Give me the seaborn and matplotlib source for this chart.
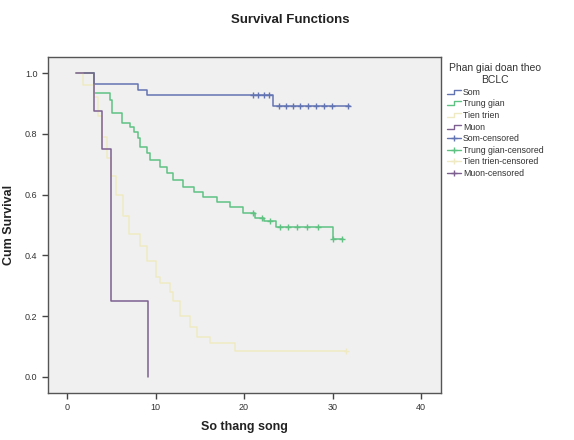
import numpy as np
import pandas as pd
import matplotlib
matplotlib.use("Agg")
import matplotlib.pyplot as plt
from matplotlib.lines import Line2D
from matplotlib.legend_handler import HandlerBase
import seaborn as sns

# ---- data ----
groups = ["Som", "Trung gian", "Tien trien", "Muon"]

som_t = [1.0, 3.0, 8.0, 9.0, 23.3, 32.0]
som_s = [1.0, 0.964, 0.946, 0.929, 0.893, 0.893]

tg_t = [1.0, 3.0, 4.9, 5.1, 6.2, 7.1, 7.6, 8.0, 8.3, 9.0, 9.4, 10.5, 11.3, 12.0,
        13.1, 14.3, 15.4, 16.9, 18.4, 19.9, 21.2, 22.3, 23.6, 30.0, 31.2]
tg_s = [1.0, 0.933, 0.91, 0.868, 0.836, 0.823, 0.807, 0.785, 0.757, 0.737, 0.714,
        0.69, 0.67, 0.648, 0.626, 0.61, 0.593, 0.577, 0.56, 0.54, 0.522, 0.512,
        0.494, 0.454, 0.454]

tt_t = [1.0, 1.8, 3.0, 3.5, 4.0, 4.5, 5.0, 5.5, 6.3, 7.0, 8.2, 9.0, 10.1, 10.5,
        11.6, 12.0, 12.8, 13.9, 14.7, 16.2, 19.0, 31.5]
tt_s = [1.0, 0.96, 0.92, 0.86, 0.79, 0.72, 0.66, 0.60, 0.53, 0.47, 0.43, 0.38,
        0.33, 0.31, 0.28, 0.25, 0.20, 0.165, 0.13, 0.11, 0.085, 0.085]

mu_t = [1.0, 3.0, 4.0, 5.0, 9.1]
mu_s = [1.0, 0.875, 0.75, 0.25, 0.0]

som_ct = [21.0, 21.6, 22.2, 22.8, 23.9, 24.7, 25.5, 26.3, 27.2, 28.1, 29.0, 29.9, 31.7]
som_cs = [0.929, 0.929, 0.929, 0.929, 0.893, 0.893, 0.893, 0.893, 0.893, 0.893,
          0.893, 0.893, 0.893]
tg_ct = [21.0, 22.0, 22.9, 24.1, 25.0, 26.0, 27.1, 28.3, 30.0, 31.1]
tg_cs = [0.538, 0.522, 0.512, 0.494, 0.494, 0.494, 0.494, 0.494, 0.454, 0.454]
tt_ct = [31.5]
tt_cs = [0.085]

x_ticks = [0, 10, 20, 30, 40]
y_ticks = [0.0, 0.2, 0.4, 0.6, 0.8, 1.0]
legend_title = "Phan giai doan theo\nBCLC"
title = "Survival Functions"
xlabel = "So thang song"
ylabel = "Cum Survival"

colors = {"Som": "#6274b2", "Trung gian": "#5fc283", "Tien trien": "#efeac3",
          "Muon": "#7e6090"}

# ---- frames ----
curves = pd.concat([
    pd.DataFrame({"group": g, "time": t, "surv": s})
    for g, t, s in [("Som", som_t, som_s), ("Trung gian", tg_t, tg_s),
                    ("Tien trien", tt_t, tt_s), ("Muon", mu_t, mu_s)]
], ignore_index=True)
cens = pd.concat([
    pd.DataFrame({"group": g, "time": t, "surv": s})
    for g, t, s in [("Som", som_ct, som_cs), ("Trung gian", tg_ct, tg_cs),
                    ("Tien trien", tt_ct, tt_cs)]
], ignore_index=True)

sns.set_style("white")
plt.rcParams["font.family"] = ["Liberation Sans", "DejaVu Sans"]

fig = plt.figure(figsize=(5.74, 4.40), dpi=100)
fig.patch.set_facecolor("white")
ax = fig.add_axes([48 / 574, 47 / 440, (441 - 48) / 574, (393 - 57) / 440])
ax.set_facecolor("#f0f0f0")

for g in groups:
    sub = curves[curves.group == g]
    sns.lineplot(data=sub, x="time", y="surv", color=colors[g], drawstyle="steps-post",
                 estimator=None, sort=False, lw=1.1, ax=ax, legend=False)
for g in ["Som", "Trung gian", "Tien trien"]:
    sub = cens[cens.group == g]
    sns.scatterplot(data=sub, x="time", y="surv", color=colors[g], marker="+", s=18,
                    linewidth=1.0, ax=ax, legend=False, zorder=3)

ax.set_xlim(-2.15, 42.25)
ax.set_ylim(-0.053, 1.053)
ax.set_xticks(x_ticks)
ax.set_yticks(y_ticks)
ax.set_xticklabels([str(v) for v in x_ticks])
ax.set_yticklabels([f"{v:.1f}" for v in y_ticks])
ax.tick_params(axis="both", direction="out", length=4, width=1, colors="#444444",
               labelsize=6.5, labelcolor="#333333", bottom=True, left=True)
for sp in ax.spines.values():
    sp.set_color("#555555")
    sp.set_linewidth(1.0)
ax.set_xlabel(xlabel, fontsize=9, fontweight="bold", color="#222222", labelpad=6)
ax.set_ylabel(ylabel, fontsize=9, fontweight="bold", color="#222222", labelpad=7)
fig.text(0.505, 1 - 20 / 440, title, ha="center", va="center", fontsize=9.5,
         fontweight="bold", color="#222222")


class StepHandler(HandlerBase):
    def create_artists(self, legend, orig_handle, xdescent, ydescent, width, height,
                       fontsize, trans):
        x0 = -xdescent
        y0 = -ydescent
        xs = [x0, x0 + width * 0.55, x0 + width * 0.55, x0 + width]
        ys = [y0 + height * 0.15, y0 + height * 0.15, y0 + height * 0.8, y0 + height * 0.8]
        ln = Line2D(xs, ys, color=orig_handle.get_color(), lw=1.0, transform=trans)
        return [ln]


class CensHandler(HandlerBase):
    def create_artists(self, legend, orig_handle, xdescent, ydescent, width, height,
                       fontsize, trans):
        x0 = -xdescent
        y0 = -ydescent + height / 2
        ln = Line2D([x0, x0 + width], [y0, y0], color=orig_handle.get_color(), lw=1.0,
                    transform=trans)
        mk = Line2D([x0 + width / 2], [y0], marker="+", ms=5, mew=1.0,
                    color=orig_handle.get_color(), transform=trans)
        return [ln, mk]


step_handles = [Line2D([], [], color=colors[g]) for g in groups]
cens_handles = [Line2D([], [], color=colors[g], marker="+") for g in groups]
labels = groups + [g + "-censored" for g in groups]
hmap = {h: StepHandler() for h in step_handles}
hmap.update({h: CensHandler() for h in cens_handles})
leg = fig.legend(step_handles + cens_handles, labels, handler_map=hmap,
                 loc="upper left", bbox_to_anchor=(443 / 574, 1 - 60 / 440),
                 frameon=False, fontsize=6.3, title=legend_title, title_fontsize=7.5,
                 handlelength=1.6, handletextpad=0.3, labelspacing=0.3,
                 borderaxespad=0.0)
for t in leg.get_texts():
    t.set_color("#333333")
leg.get_title().set_color("#333333")
leg.get_title().set_multialignment("center")

fig.savefig("out.png", dpi=100, facecolor="white")
